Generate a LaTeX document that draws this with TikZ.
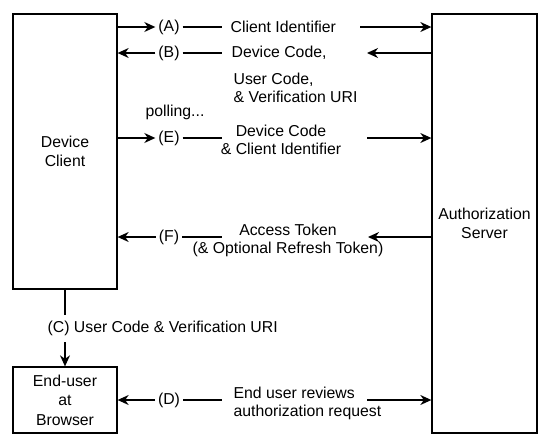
\documentclass[tikz,border=0pt]{standalone}
\usepackage{fontspec}
\setmainfont{Liberation Sans}
\usetikzlibrary{arrows.meta}

\begin{document}
\begin{tikzpicture}[
  x=1pt, y=-1pt,
  line width=1.3pt,
  font=\fontsize{15.8}{18}\selectfont,
  box/.style={draw, line width=1.3pt, align=center, inner sep=0pt,
    font=\fontsize{15.8}{19.5}\selectfont},
  tag/.style={inner sep=2.5pt},
  msg/.style={inner sep=0pt},
  arr/.style={-{Stealth[length=11pt,width=10pt,inset=3.5pt]}}
]
\useasboundingbox (0,0) rectangle (550,445);

% the three parties
\node[box, minimum width=104pt, minimum height=275pt] (dc) at (65,151.5) {Device\\Client};
\node[box, minimum width=105pt, minimum height=419pt] (as) at (484.5,223.5) {Authorization\\Server};
\node[box, minimum width=104pt, minimum height=66pt] (eu) at (65,400) {End-user\\at\\Browser};

% step tags
\node[tag] (ta) at (169,27) {(A)};
\node[tag] (tb) at (169,53) {(B)};
\node[tag] (te) at (169,138) {(E)};
\node[tag] (tf) at (169,237) {(F)};
\node[tag] (td) at (169,400) {(D)};

% message texts
\node[msg, anchor=west] (ma) at (230,27) {Client Identifier};
\node[msg, anchor=west] (mb) at (231,53) {Device Code,};
\node[msg, anchor=west, align=left] (mb2) at (233,88) {User Code,\\\& Verification URI};
\node[msg] (poll) at (175,112) {polling...};
\node[msg, align=center] (me) at (281,140) {Device Code\\\& Client Identifier};
\node[msg, align=center] (mf) at (288,240.5) {Access Token\\(\& Optional Refresh Token)};
\node[msg, anchor=west, align=left] (md) at (233,403) {End user reviews\\authorization request};
\node[msg, anchor=west] (mc) at (47,328) {(C) User Code \& Verification URI};

% line ends
\coordinate (la) at (222,27);  \coordinate (ra) at (360,27);
\coordinate (lb) at (222,53);  \coordinate (rb) at (367,53);
\coordinate (le) at (222,138); \coordinate (re) at (367,138);
\coordinate (lf) at (222,237); \coordinate (rf) at (368,237);
\coordinate (ld) at (222,400); \coordinate (rd) at (367,400);
\coordinate (c1) at (65,315);  \coordinate (c2) at (65,342);

% (A)
\draw[arr] (dc.east |- ta) -- (ta);
\draw (ta) -- (la);
\draw[arr] (ra) -- (as.west |- ra);
% (B)
\draw[arr] (tb) -- (dc.east |- tb);
\draw (tb) -- (lb);
\draw[arr] (as.west |- rb) -- (rb);
% (E)
\draw[arr] (dc.east |- te) -- (te);
\draw (te) -- (le);
\draw[arr] (re) -- (as.west |- re);
% (F)
\draw[arr] (tf) -- (dc.east |- tf);
\draw (tf) -- (lf);
\draw[arr] (as.west |- rf) -- (rf);
% (D)
\draw[arr] (td) -- (eu.east |- td);
\draw (td) -- (ld);
\draw[arr] (rd) -- (as.west |- rd);
% (C)
\draw (dc.south) -- (c1);
\draw[arr] (c2) -- (eu.north);
\end{tikzpicture}
\end{document}
